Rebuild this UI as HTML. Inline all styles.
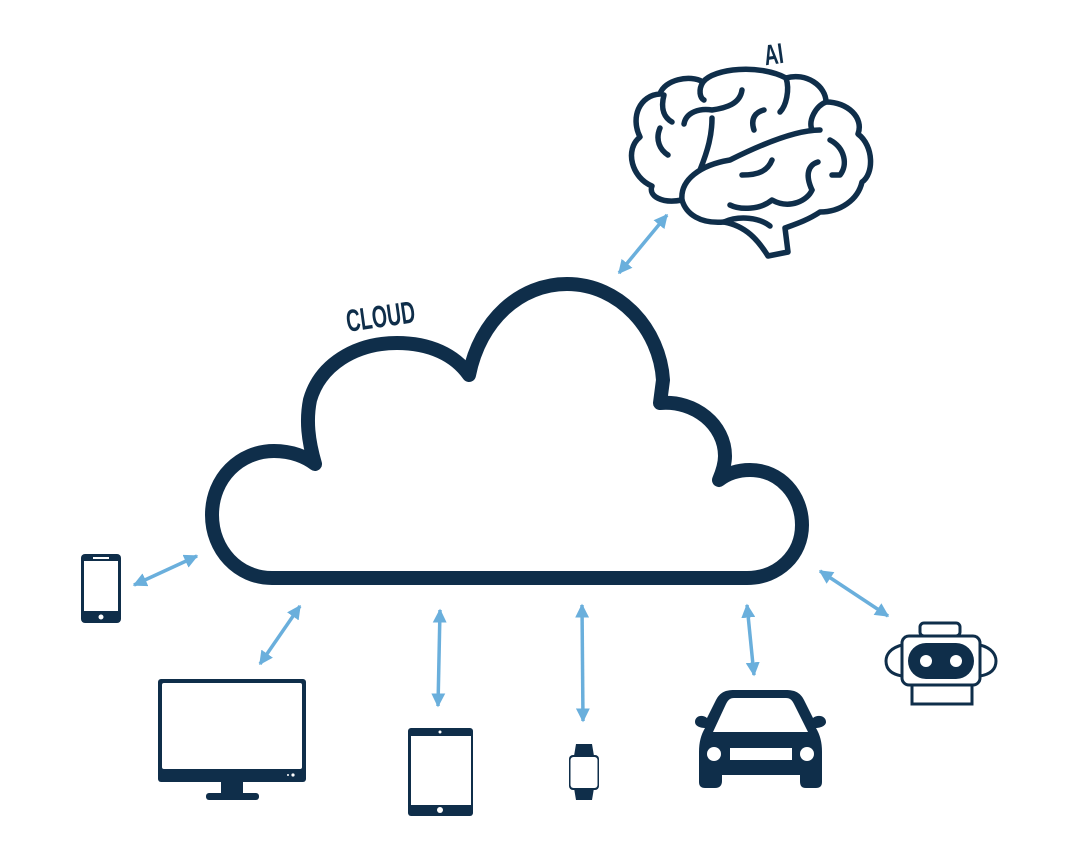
<!DOCTYPE html>
<html><head><meta charset="utf-8"><style>
html,body{margin:0;padding:0;background:#fff;}
svg{display:block;}
</style></head><body>
<svg width="1080" height="860" viewBox="0 0 1080 860" xmlns="http://www.w3.org/2000/svg">
<defs>
<marker id="ah" viewBox="0 0 10 10" refX="9" refY="5" markerWidth="4" markerHeight="4" orient="auto-start-reverse" markerUnits="strokeWidth">
<path d="M0,0 L10,5 L0,10 Z" fill="#6aafdc"/>
</marker>
</defs>
<rect width="1080" height="860" fill="#fff"/>

<!-- Cloud -->
<path d="M 747 578 L 272 578 C 238 578 212 550 212 515 C 212 478 240 451 274 451 C 292 451 306 457 315 464 C 308 440 306 420 310 400 C 320 365 355 343 397 343 C 430 343 455 355 469 375 C 480 320 520 284 567 284 C 620 284 660 330 663 380 L 660 403 C 695 400 725 425 725 456 C 725 465 722 473 719 480 C 728 473 738 470 750 470 C 780 470 802 495 802 525 C 802 555 778 578 747 578 Z" fill="none" stroke="#0f2e4a" stroke-width="14" stroke-linejoin="round" stroke-linecap="round"/>
<text x="0" y="0" transform="translate(382,327) rotate(-8) scale(0.75,1.2)" text-anchor="middle" font-family="Liberation Sans, sans-serif" font-weight="bold" font-size="26" fill="#0f2e4a">CLOUD</text>

<!-- Brain -->
<text x="0" y="0" transform="translate(775,64) rotate(-8) scale(0.8,1.2)" text-anchor="middle" font-family="Liberation Sans, sans-serif" font-weight="bold" font-size="24" fill="#0f2e4a">AI</text>
<g fill="none" stroke="#0f2e4a" stroke-width="5.5" stroke-linecap="round" stroke-linejoin="round">
<path d="M 682 200 C 662 204 648 196 652 186 C 632 178 624 150 640 137 C 630 117 640 95 660 94 C 664 80 690 74 703 82 C 714 68 760 64 786 78 C 806 72 826 86 826 102 C 848 102 864 118 858 134 C 874 146 874 174 862 182 C 858 200 840 212 820 212 C 808 220 796 224 785 228 L 788 252 L 768 256 C 758 240 746 226 724 222 C 700 224 686 214 682 200"/>
<path d="M 703 82 C 698 90 700 98 704 100"/>
<path d="M 786 78 C 790 90 786 106 780 112"/>
<path d="M 826 102 C 816 106 808 120 812 130"/>
<path d="M 682 200 C 680 180 700 165 730 160 C 770 140 800 130 820 130"/>
<path d="M 700 170 C 708 150 712 135 712 118"/>
<path d="M 684 124 C 686 112 700 108 712 110 C 726 108 740 104 742 90"/>
<path d="M 664 95 C 660 110 665 118 672 122"/>
<path d="M 660 128 C 655 140 660 150 668 155"/>
<path d="M 754 130 C 750 118 756 112 764 110"/>
<path d="M 742 175 C 760 175 768 170 772 160"/>
<path d="M 730 205 C 740 210 760 210 772 200 C 790 210 808 200 812 190"/>
<path d="M 812 190 C 805 175 808 165 818 162"/>
<path d="M 830 140 C 845 148 848 165 840 175 L 832 175"/>
<path d="M 724 222 C 740 215 760 218 770 226"/>
</g>

<!-- Arrows -->
<g stroke="#6aafdc" stroke-width="3.5" marker-start="url(#ah)" marker-end="url(#ah)">
<line x1="619" y1="273" x2="667" y2="215"/>
<line x1="134" y1="585" x2="197" y2="556"/>
<line x1="260" y1="664" x2="300" y2="606"/>
<line x1="440" y1="610" x2="438" y2="706"/>
<line x1="582" y1="605" x2="583" y2="721"/>
<line x1="747" y1="605" x2="754" y2="675"/>
<line x1="820" y1="571" x2="888" y2="616"/>
</g>

<g fill="#0f2e4a">
<!-- Phone -->
<rect x="81" y="554" width="40" height="69" rx="4"/>
<rect x="84" y="561" width="34" height="50" fill="#fff"/>
<rect x="93" y="557" width="16" height="2" fill="#fff"/>
<circle cx="101" cy="617" r="2.5" fill="#fff"/>
<!-- Monitor -->
<rect x="158" y="679" width="148" height="103" rx="3"/>
<rect x="162" y="683" width="140" height="86" rx="2" fill="#fff"/>
<circle cx="293" cy="775" r="1.6" fill="#fff"/><circle cx="288" cy="775" r="1" fill="#fff"/>
<rect x="221" y="781" width="22" height="13"/>
<rect x="206" y="793" width="53" height="7" rx="3"/>
<!-- Tablet -->
<rect x="408" y="728" width="65" height="88" rx="3"/>
<rect x="411" y="736" width="60" height="69" fill="#fff"/>
<circle cx="440" cy="732" r="1.5" fill="#fff"/>
<circle cx="440" cy="810" r="3" fill="#fff"/>
<!-- Watch -->
<path d="M576 744 L592 744 L594 756 L574 756 Z"/>
<path d="M574 788 L594 788 L592 800 L576 800 Z"/>
<rect x="569" y="755" width="30" height="35" rx="4"/>
<rect x="570.5" y="757" width="27" height="31" rx="3" fill="#fff"/>
<!-- Car -->
<path d="M 716 700 C 720 692 726 690 734 690 L 786 690 C 794 690 800 692 804 700 L 813 718 C 818 714 826 716 826 722 C 826 726 820 728 816 728 C 820 735 822 742 822 752 L 822 782 C 822 786 820 788 816 788 L 806 788 C 801 788 800 785 800 781 L 800 775 L 722 775 L 722 781 C 722 785 720 788 715 788 L 705 788 C 701 788 699 786 699 782 L 699 752 C 699 742 701 735 705 728 C 700 728 695 726 695 722 C 695 716 702 714 707 718 Z"/>
<path d="M 734 698 L 786 698 C 790 698 792 700 794 704 L 808 732 L 713 732 L 726 704 C 728 700 730 698 734 698 Z" fill="#fff"/>
<circle cx="714" cy="754" r="7" fill="#fff"/>
<circle cx="807" cy="754" r="7" fill="#fff"/>
<rect x="730" y="748" width="62" height="12" fill="#fff"/>
</g>

<!-- Robot -->
<g fill="none" stroke="#0f2e4a" stroke-width="3">
<rect x="920" y="623" width="40" height="13" rx="4"/>
<path d="M 902 645 C 890 648 886 655 886 661 C 886 668 890 674 902 676"/>
<path d="M 980 645 C 992 648 996 655 996 661 C 996 668 992 674 980 676"/>
<rect x="902" y="636" width="78" height="49" rx="7"/>
<rect x="912" y="685" width="60" height="19"/>
</g>
<rect x="908" y="643" width="66" height="36" rx="18" fill="#0f2e4a"/>
<circle cx="926" cy="661" r="6" fill="#fff"/>
<circle cx="956" cy="661" r="6" fill="#fff"/>
</svg>
</body></html>
